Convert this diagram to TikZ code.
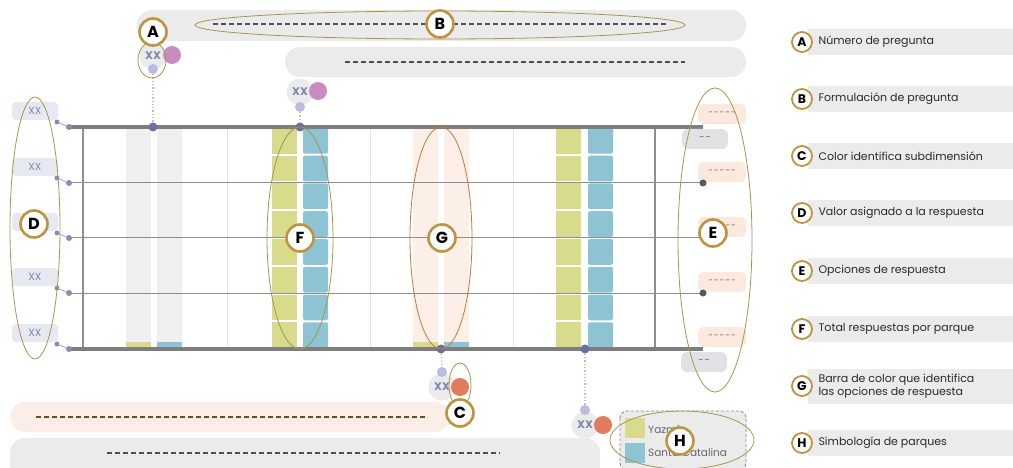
\documentclass[tikz,border=0pt]{standalone}
\usepackage{fontspec}
\setmainfont{Poppins}
\usetikzlibrary{shapes.geometric}
\definecolor{bandgray}{HTML}{EBEBEB}
\definecolor{peach}{HTML}{FBEEE6}
\definecolor{barpeach}{HTML}{FCEFE7}
\definecolor{bargray}{HTML}{EFEFEF}
\definecolor{ycol}{HTML}{D8DB8C}
\definecolor{bcol}{HTML}{8DC3D2}
\definecolor{gold}{HTML}{BF9440}
\definecolor{olive}{HTML}{A8944E}
\definecolor{ochre}{HTML}{C07A3C}
\definecolor{pinkc}{HTML}{C98CC1}
\definecolor{orangec}{HTML}{E07B5E}
\definecolor{lav}{HTML}{B9BBE0}
\definecolor{dotc}{HTML}{6B709E}
\definecolor{xxcol}{HTML}{7F86AE}
\definecolor{linec}{HTML}{7E7E7E}
\definecolor{thinc}{HTML}{8E8E8E}
\definecolor{faint}{HTML}{E3E3E3}
\definecolor{tagl}{HTML}{E6E8F2}
\definecolor{tagp}{HTML}{FBE9DD}
\definecolor{tagg}{HTML}{E2E2E4}
\definecolor{dashc}{HTML}{4A4F5A}
\definecolor{txt}{HTML}{2A2A2A}
\newcommand{\fivedash}{-\kern1pt-\kern1pt-\kern1pt-\kern1pt-}
\newcommand{\twodash}{-\kern1pt-}
\begin{document}
\begin{tikzpicture}[x=1pt,y=-1pt,
  band/.style={fill=bandgray,rounded corners=15pt},
  dline/.style={draw=dashc,line width=1.2pt,dash pattern=on 5pt off 3pt},
  lbl/.style={circle,draw=gold,line width=2.6pt,fill=white,minimum size=27pt,inner sep=0pt,font=\bfseries\fontsize{16}{16}\selectfont},
  lgl/.style={circle,draw=gold,line width=1.8pt,fill=white,minimum size=20pt,inner sep=0pt,font=\bfseries\fontsize{12.5}{12.5}\selectfont},
  hl/.style={draw=olive,line width=0.8pt},
  hlo/.style={draw=ochre,line width=0.8pt},
  xxn/.style={circle,fill=bandgray,minimum size=27pt,inner sep=0pt,text=xxcol,font=\bfseries\fontsize{11}{11}\selectfont},
  pinkn/.style={circle,fill=pinkc,minimum size=18pt,inner sep=0pt},
  orn/.style={circle,fill=orangec,minimum size=18pt,inner sep=0pt},
  lavn/.style={circle,fill=lav,minimum size=10pt,inner sep=0pt},
  dotn/.style={circle,fill=dotc,minimum size=9pt,inner sep=0pt},
  sdot/.style={circle,fill=dotc!80,minimum size=5pt,inner sep=0pt},
  edot/.style={circle,fill=black!65,minimum size=7pt,inner sep=0pt},
  ltag/.style={fill=tagl,rounded corners=4pt,minimum width=46pt,minimum height=18pt,inner sep=0pt,text=xxcol,font=\fontsize{10.5}{10.5}\selectfont},
  ptag/.style={fill=tagp,rounded corners=5pt,minimum width=48pt,minimum height=20pt,inner sep=0pt,text=black!60,font=\fontsize{8.5}{8.5}\selectfont},
  gtag/.style={fill=tagg,rounded corners=6pt,minimum width=46pt,minimum height=20pt,inner sep=0pt,text=black!60,font=\fontsize{9.5}{9.5}\selectfont},
  connl/.style={draw=xxcol!80,line width=0.7pt},
  dotl/.style={draw=lav,line width=1.3pt,dotted},
  legbar/.style={fill=bandgray},
  legtxt/.style={anchor=west,text=txt,font=\fontsize{11}{13}\selectfont,align=left}
]
\useasboundingbox (0,0) rectangle (1013,468);

% top bands
\fill[band] (137,10) rectangle (746,41);
\fill[band] (285,47) rectangle (746,77);
\coordinate (b1s) at (213,24); \coordinate (b1e) at (668,24);
\coordinate (b2s) at (345,62); \coordinate (b2e) at (685,62);
\draw[dline] (b1s) -- (b1e);
\draw[dline] (b2s) -- (b2e);

% faint vertical grid lines
\foreach \x in {227,370,513} \draw[faint,line width=1pt] (\x,127) -- (\x,349);

% group 1 (gray bars)
\fill[bargray] (126,127) rectangle (151,349);
\fill[bargray] (157,127) rectangle (182,349);
\fill[ycol] (126,342) rectangle (151,349);
\fill[bcol] (157,342) rectangle (182,349);
% group 3 (peach bars)
\fill[barpeach] (413,127) rectangle (438,349);
\fill[barpeach] (444,127) rectangle (469,349);
\fill[ycol] (413,342) rectangle (438,349);
\fill[bcol] (444,342) rectangle (469,349);
% groups 2 and 4 (stacked blocks)
\foreach \xa/\xb in {272/303,556/588}{
  \foreach \k in {0,...,7}{
    \fill[ycol] (\xa,{127+\k*27.75+1}) rectangle ({\xa+25},{127+(\k+1)*27.75-1});
    \fill[bcol,rounded corners=2pt] (\xb,{127+\k*27.75+1}) rectangle ({\xb+25},{127+(\k+1)*27.75-1});
  }
}

% frame
\coordinate (tl) at (68,127); \coordinate (tr) at (703,127);
\coordinate (bl) at (68,349); \coordinate (br) at (703,349);
\draw[thinc,line width=1.5pt] (83,127) -- (83,349);
\draw[thinc,line width=1.5pt] (655,127) -- (655,349);
\foreach \y in {183,238,293} \draw[thinc,line width=1pt] (68,\y) -- (703,\y);
\draw[linec,line width=4pt] (tl) -- (tr);
\draw[linec,line width=4pt] (bl) -- (br);

% left value tags
\foreach \i/\y in {1/127,2/183,3/238,4/293,5/349}{
  \node[ltag] (lt\i) at (35,{\y-16}) {XX};
  \node[sdot] (ls\i) at (57,{\y-5}) {};
  \node[sdot,minimum size=6pt] (le\i) at (69,\y) {};
  \draw[connl] (ls\i) -- (le\i);
}

% right option tags
\foreach \i/\y in {1/114,2/172,3/227,4/282,5/337}{
  \node[ptag] (rt\i) at (722,\y) {\fivedash};
}
\node[gtag] (rg1) at (705,139) {\twodash};
\node[gtag] (rg2) at (704,362) {\twodash};
\node[edot] (rd1) at (703,183) {};
\node[edot] (rd2) at (703,293) {};

% question markers (top)
\node[dotn] (dA) at (153,127) {};
\node[xxn] (xA) at (153,56) {XX};
\node[pinkn] (pA) at (172,55) {};
\node[lavn] (lA) at (153,69) {};
\draw[dotl] (lA) -- (dA);

\node[dotn] (dF) at (300,127) {};
\node[xxn] (xF) at (300,92) {XX};
\node[pinkn] (pF) at (318,91) {};
\node[lavn] (lF) at (300,107) {};
\draw[dotl] (lF) -- (dF);

% question markers (bottom)
\node[dotn] (dG) at (441,349) {};
\node[xxn] (xG) at (442,387) {XX};
\node[orn] (oG) at (460,387) {};
\node[lavn] (lG) at (442,372) {};
\draw[dotl] (dG) -- (lG);

\node[dotn] (dH) at (585,349) {};
\node[xxn] (xH) at (585,425) {XX};
\node[orn] (oH) at (603,425) {};
\node[lavn] (lH) at (585,410) {};
\draw[dotl] (dH) -- (lH);

% bottom bands
\fill[peach,rounded corners=15pt] (10,402) rectangle (450,432);
\fill[band] (10,438) rectangle (600,480);
\coordinate (b3s) at (36,417); \coordinate (b3e) at (428,417);
\coordinate (b4s) at (107,453); \coordinate (b4e) at (500,453);
\draw[dline,draw=ochre!60!black] (b3s) -- (b3e);
\draw[dline] (b4s) -- (b4e);

% park legend
\draw[fill=bandgray,draw=black!45,densely dashed,line width=0.9pt,rounded corners=7pt] (620,411) rectangle (746,470);
\fill[ycol] (625,418) rectangle (645,438);
\fill[bcol] (625,443) rectangle (645,463);
\node[anchor=west,text=black!60,font=\fontsize{10.5}{10.5}\selectfont,inner sep=0pt] (yaz) at (648,429) {Yazmín};
\node[anchor=west,text=black!60,font=\fontsize{10.5}{10.5}\selectfont,inner sep=0pt] (sca) at (648,453) {Santa Catalina};

% highlight ellipses
\draw[hl] (440,25) ellipse [x radius=245,y radius=14];
\draw[hl] (152,60) ellipse [x radius=14,y radius=18];
\draw[hl] (35,228) ellipse [x radius=25,y radius=131];
\draw[hl] (300,238) ellipse [x radius=33,y radius=111];
\draw[hlo] (441,238) ellipse [x radius=31,y radius=111];
\draw[hl] (715,240) ellipse [x radius=37,y radius=152];
\draw[hl] (460,385) ellipse [x radius=11,y radius=22];
\draw[hl] (682,440) ellipse [x radius=72,y radius=29];

% letter markers
\node[lbl] (A) at (153,32) {A};
\node[lbl] (B) at (440,24) {B};
\node[lbl] (C) at (460,413) {C};
\node[lbl] (D) at (34,224) {D};
\node[lbl] (E) at (713,233) {E};
\node[lbl] (F) at (300,238) {F};
\node[lbl] (G) at (442,238) {G};
\node[lbl] (H) at (680,441) {H};

% right-hand key
\foreach \t/\y/\h/\s in {A/42/26/Número de pregunta,
  B/99/26/Formulación de pregunta,
  C/156/26/Color identifica subdimensión,
  D/213/26/Valor asignado a la respuesta,
  E/271/26/Opciones de respuesta,
  F/329/26/Total respuestas por parque,
  G/386/35/{Barra de color que identifica\\las opciones de respuesta},
  H/443/26/Simbología de parques}{
  \fill[legbar] (808,{\y-\h/2}) rectangle (1013,{\y+\h/2});
  \node[lgl] (k\t) at (802,\y) {\t};
  \node[legtxt] (kt\t) at (815,\y) {\s};
}
\end{tikzpicture}
\end{document}
